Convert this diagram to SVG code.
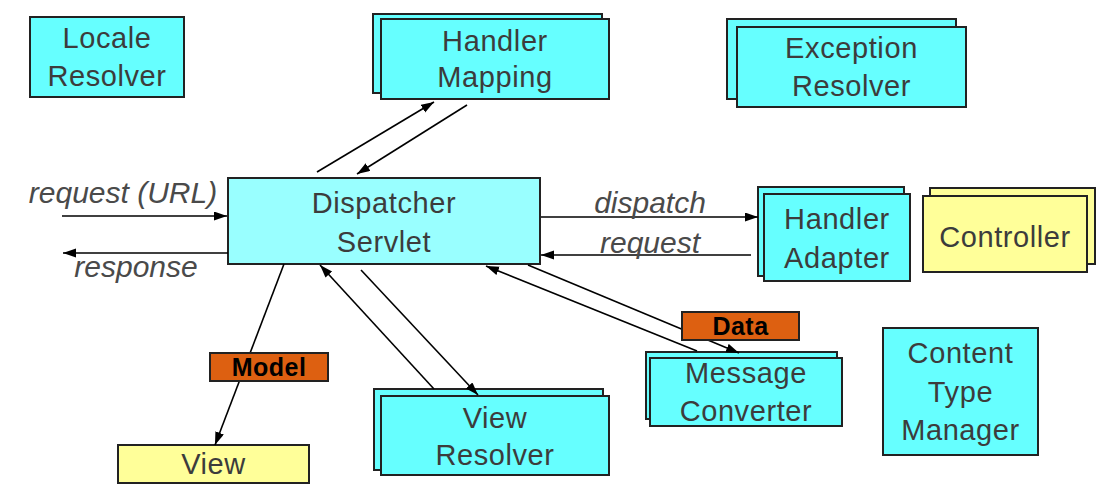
<svg xmlns="http://www.w3.org/2000/svg" width="1113" height="492" viewBox="0 0 1113 492">
<defs>
<marker id="ah" markerUnits="userSpaceOnUse" markerWidth="14" markerHeight="10" refX="13" refY="4.5" orient="auto">
<path d="M0,0 L13,4.5 L0,9 z" fill="#000"/>
</marker>
<style>
.c{fill:#66FFFF;stroke:#222;stroke-width:2}
.d{fill:#99FFFF;stroke:#222;stroke-width:2}
.y{fill:#FFFF99;stroke:#222;stroke-width:2}
.o{fill:#DD6011;stroke:#222;stroke-width:2}
.t{font-family:"Liberation Sans",Arial,sans-serif;font-size:29px;letter-spacing:0.6px;fill:#3c3c3c;text-anchor:middle}
.i{font-family:"Liberation Sans",Arial,sans-serif;font-size:30px;font-style:italic;fill:#4a4a4a;text-anchor:middle}
.b{font-family:"Liberation Sans",Arial,sans-serif;font-size:25px;font-weight:bold;letter-spacing:0.5px;fill:#000;text-anchor:middle}
.l{stroke:#000;stroke-width:1.6;fill:none}
.a{stroke:#000;stroke-width:1.6;fill:none;marker-end:url(#ah)}
</style>
</defs>
<rect width="1113" height="492" fill="#fff"/>

<g id="locale-resolver">
<rect class="c" x="30" y="17" width="154" height="80"/>
<text class="t" x="107" y="48">Locale</text>
<text class="t" x="107" y="86">Resolver</text>
</g>

<g id="handler-mapping">
<rect class="c" x="373" y="14" width="229" height="79"/>
<rect class="c" x="381" y="19" width="228" height="80"/>
<text class="t" x="495" y="51">Handler</text>
<text class="t" x="495" y="87">Mapping</text>
</g>

<g id="exception-resolver">
<rect class="c" x="727" y="19" width="229" height="80"/>
<rect class="c" x="737" y="27" width="229" height="80"/>
<text class="t" x="851.5" y="58">Exception</text>
<text class="t" x="851.5" y="96">Resolver</text>
</g>

<g id="dispatcher-servlet">
<rect class="d" x="228" y="178" width="312" height="86"/>
<text class="t" x="384" y="213">Dispatcher</text>
<text class="t" x="384" y="252">Servlet</text>
</g>

<g id="handler-adapter">
<rect class="c" x="758" y="187" width="146" height="89"/>
<rect class="c" x="764" y="194" width="146" height="87"/>
<text class="t" x="837" y="229">Handler</text>
<text class="t" x="837" y="268">Adapter</text>
</g>

<g id="controller">
<rect class="y" x="930" y="188" width="165" height="76"/>
<rect class="y" x="923" y="196" width="164" height="76"/>
<text class="t" x="1005" y="247">Controller</text>
</g>

<g id="message-converter">
<rect class="c" x="646" y="352" width="191" height="67"/>
<rect class="c" x="650" y="358" width="192" height="68"/>
<text class="t" x="746" y="383">Message</text>
<text class="t" x="746" y="421">Converter</text>
</g>

<g id="content-type-manager">
<rect class="c" x="883" y="328" width="155" height="127"/>
<text class="t" x="960.5" y="363">Content</text>
<text class="t" x="960.5" y="402">Type</text>
<text class="t" x="960.5" y="440">Manager</text>
</g>

<g id="view-resolver">
<rect class="c" x="374" y="389" width="229" height="81"/>
<rect class="c" x="381" y="396" width="228" height="79"/>
<text class="t" x="495" y="428">View</text>
<text class="t" x="495" y="465">Resolver</text>
</g>

<g id="view">
<rect class="y" x="118" y="445" width="191" height="38"/>
<text class="t" x="213.5" y="474">View</text>
</g>

<g id="connectors">
<line class="a" x1="62" y1="216" x2="227" y2="216"/>
<line class="a" x1="228" y1="253" x2="63" y2="253"/>
<line class="a" x1="317" y1="172" x2="434" y2="102"/>
<line class="a" x1="467" y1="105" x2="357" y2="174"/>
<line class="a" x1="541" y1="217" x2="758" y2="217"/>
<line class="a" x1="751" y1="255" x2="541" y2="255"/>
<line class="a" x1="284" y1="264" x2="215" y2="445"/>
<line class="a" x1="434" y1="389" x2="320" y2="265"/>
<line class="a" x1="361" y1="270" x2="478" y2="395"/>
<line class="a" x1="528" y1="265" x2="739" y2="353"/>
<line class="a" x1="697" y1="351" x2="486" y2="266"/>
<text class="i" x="123" y="203">request (URL)</text>
<text class="i" x="136" y="277">response</text>
<text class="i" x="650" y="213">dispatch</text>
<text class="i" x="650" y="253">request</text>
<g id="model-label">
<rect class="o" x="210" y="353" width="118" height="28"/>
<text class="b" x="269" y="376">Model</text>
</g>
<g id="data-label">
<rect class="o" x="682" y="312" width="117" height="28"/>
<text class="b" x="740.5" y="335">Data</text>
</g>
</g>
</svg>
